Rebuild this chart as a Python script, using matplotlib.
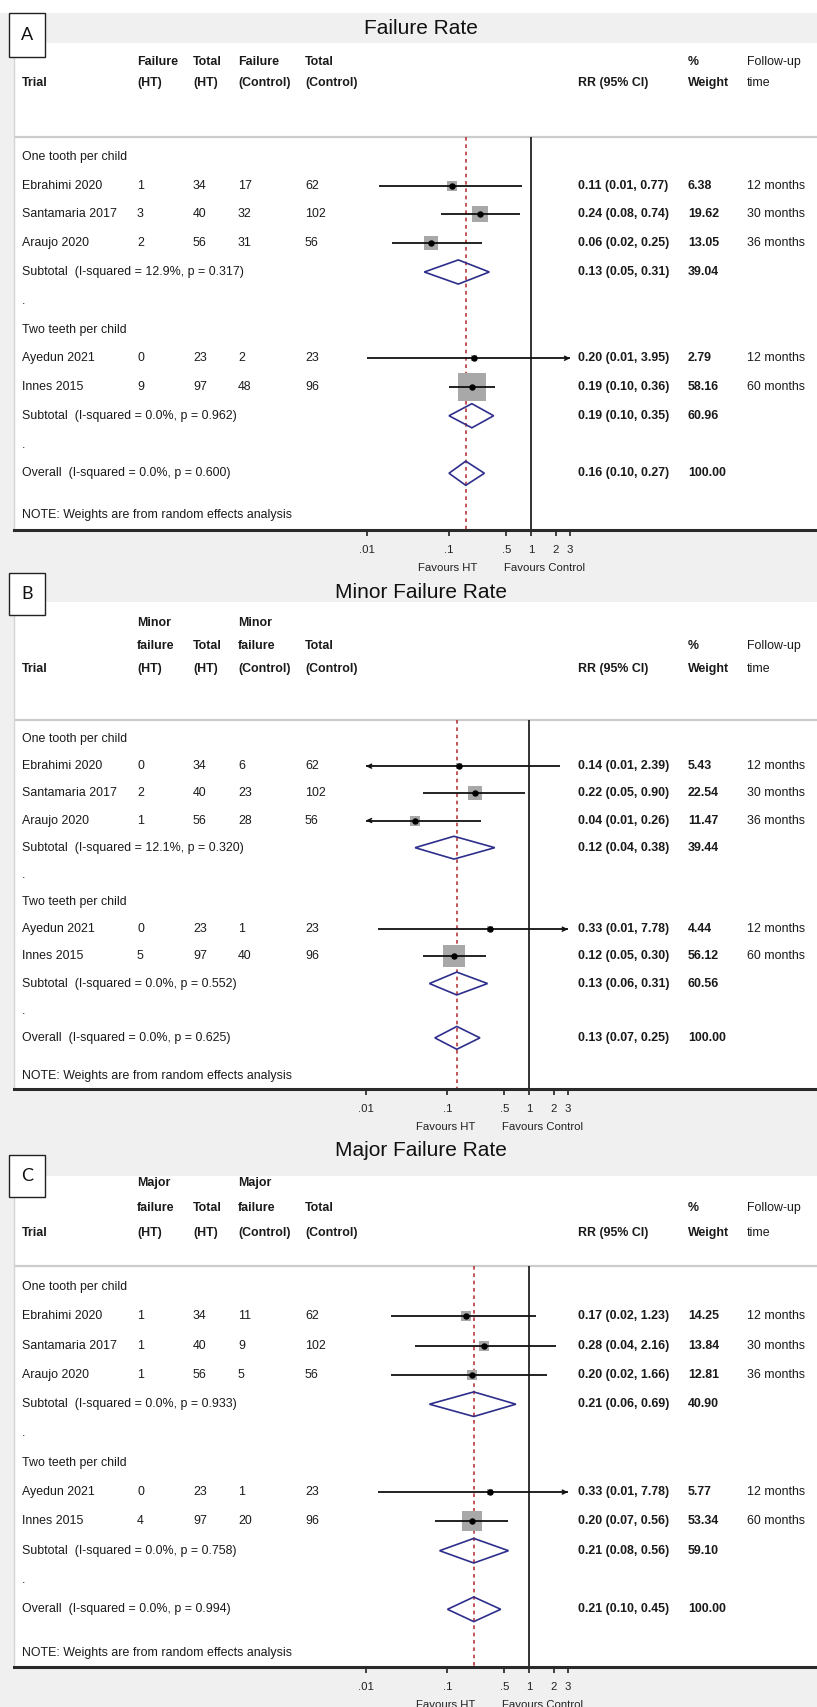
import matplotlib
matplotlib.use("Agg")
import matplotlib.pyplot as plt
from matplotlib.patches import Rectangle, Polygon
import matplotlib.transforms as mtransforms

W, H = 817, 1707
DPI = 100
plt.rcParams['font.family'] = ['Liberation Sans', 'DejaVu Sans']

# ---------------- data ----------------
studies = ["Ebrahimi 2020", "Santamaria 2017", "Araujo 2020", "Ayedun 2021", "Innes 2015"]
followup = ["12 months", "30 months", "36 months", "12 months", "60 months"]
group_labels = ["One tooth per child", "Two teeth per child"]
study_group = [0, 0, 0, 1, 1]
tick_vals = [0.01, 0.1, 0.5, 1, 2, 3]
tick_labels = [".01", ".1", ".5", "1", "2", "3"]

# Panel A - Failure rate
A_ev_ht = [1, 3, 2, 0, 9]
A_n_ht = [34, 40, 56, 23, 97]
A_ev_c = [17, 32, 31, 2, 48]
A_n_c = [62, 102, 56, 23, 96]
A_rr = [0.11, 0.24, 0.06, 0.20, 0.19]
A_lo = [0.014, 0.08, 0.02, 0.01, 0.10]
A_hi = [0.77, 0.74, 0.25, 3.95, 0.36]
A_w = [6.38, 19.62, 13.05, 2.79, 58.16]
A_sub_rr = [0.13, 0.19]
A_sub_lo = [0.05, 0.10]
A_sub_hi = [0.31, 0.35]
A_sub_w = [39.04, 60.96]
A_sub_i2 = [12.9, 0.0]
A_sub_p = [0.317, 0.962]
A_all = [0.16, 0.10, 0.27]
A_all_i2, A_all_p = 0.0, 0.600
A_head = [["", "Failure", "Total", "Failure", "Total", "", "%", "Follow-up"],
          ["Trial", "(HT)", "(HT)", "(Control)", "(Control)", "RR (95% CI)", "Weight", "time"]]

# Panel B - Minor failure rate
B_ev_ht = [0, 2, 1, 0, 5]
B_n_ht = [34, 40, 56, 23, 97]
B_ev_c = [6, 23, 28, 1, 40]
B_n_c = [62, 102, 56, 23, 96]
B_rr = [0.14, 0.22, 0.04, 0.33, 0.12]
B_lo = [0.008, 0.05, 0.006, 0.014, 0.05]
B_hi = [2.39, 0.90, 0.26, 7.78, 0.30]
B_w = [5.43, 22.54, 11.47, 4.44, 56.12]
B_sub_rr = [0.12, 0.13]
B_sub_lo = [0.04, 0.06]
B_sub_hi = [0.38, 0.31]
B_sub_w = [39.44, 60.56]
B_sub_i2 = [12.1, 0.0]
B_sub_p = [0.320, 0.552]
B_all = [0.13, 0.07, 0.25]
B_all_i2, B_all_p = 0.0, 0.625
B_head = [["", "Minor", "", "Minor", "", "", "", ""],
          ["", "failure", "Total", "failure", "Total", "", "%", "Follow-up"],
          ["Trial", "(HT)", "(HT)", "(Control)", "(Control)", "RR (95% CI)", "Weight", "time"]]

# Panel C - Major failure rate
C_ev_ht = [1, 1, 1, 0, 4]
C_n_ht = [34, 40, 56, 23, 97]
C_ev_c = [11, 9, 5, 1, 20]
C_n_c = [62, 102, 56, 23, 96]
C_rr = [0.17, 0.28, 0.20, 0.33, 0.20]
C_lo = [0.02, 0.04, 0.02, 0.014, 0.07]
C_hi = [1.23, 2.16, 1.66, 7.78, 0.56]
C_w = [14.25, 13.84, 12.81, 5.77, 53.34]
C_sub_rr = [0.21, 0.21]
C_sub_lo = [0.06, 0.08]
C_sub_hi = [0.69, 0.56]
C_sub_w = [40.90, 59.10]
C_sub_i2 = [0.0, 0.0]
C_sub_p = [0.933, 0.758]
C_all = [0.21, 0.10, 0.45]
C_all_i2, C_all_p = 0.0, 0.994
C_head = [["", "Major", "", "Major", "", "", "", ""],
          ["", "failure", "Total", "failure", "Total", "", "%", "Follow-up"],
          ["Trial", "(HT)", "(HT)", "(Control)", "(Control)", "RR (95% CI)", "Weight", "time"]]

# ---------------- layout (pixels) ----------------
COLX = [22, 137, 193, 238, 305, 578, 688, 747]
XMIN, XMAX = 0.01, 3.0
geoA = dict(white_top=43, axis=530, row0=157, dy=28.75, heads=[62, 83], sep=137,
            x1=531, ppd=82, title=28, box=(13, 57), note=515, k=3.6)
geoB = dict(white_top=602, axis=1089, row0=739, dy=27.17, heads=[623, 646, 669], sep=720,
            x1=529, ppd=81.5, title=593, box=(573, 615), note=1076, k=2.95)
geoC = dict(white_top=1176, axis=1667, row0=1287, dy=29.3, heads=[1183, 1208, 1233], sep=1266,
            x1=529, ppd=81.5, title=1150, box=(1155, 1197), note=1653, k=2.7)

BG = '#f0f0f0'
fig = plt.figure(figsize=(W / DPI, H / DPI), dpi=DPI, facecolor=BG)
fig.patches.append(Rectangle((0, 1 - 13 / H), 1, 13 / H, transform=fig.transFigure,
                             facecolor='white', edgecolor='none', zorder=0))

TXT = '#1a1a1a'
FS = 8.9


def fx(px):
    return px / W


def fy(py):
    return 1 - py / H


def draw_panel(geo, letter, title, head, ev_ht, n_ht, ev_c, n_c, rr, lo, hi, w,
               sub_rr, sub_lo, sub_hi, sub_w, sub_i2, sub_p, allv, all_i2, all_p):
    top, bot = geo['white_top'], geo['axis']
    ax = fig.add_axes([fx(14), fy(bot), fx(817 - 14), (bot - top) / H])
    ax.set_facecolor('white')
    ax.set_xscale('log')
    ax.set_xlim(10 ** ((14 - geo['x1']) / geo['ppd']), 10 ** ((817 - geo['x1']) / geo['ppd']))
    ax.set_ylim(bot, top)
    ax.set_yticks([])
    ax.minorticks_off()
    ax.set_xticks(tick_vals)
    ax.set_xticklabels(tick_labels)
    ax.tick_params(axis='x', which='major', direction='out', length=4.5, width=1.2,
                   pad=6.5, labelsize=8.2, colors='#222222')
    ax.tick_params(axis='x', which='minor', length=0)
    for s in ['top', 'right']:
        ax.spines[s].set_visible(False)
    ax.spines['left'].set_color('#d4d4d4')
    ax.spines['left'].set_linewidth(1.0)
    ax.spines['bottom'].set_color('#2a2a2a')
    ax.spines['bottom'].set_linewidth(2.2)

    tr = mtransforms.blended_transform_factory(fig.transFigure, ax.transData)
    dy = geo['dy']

    def row(i):
        return geo['row0'] + i * dy

    # header
    for hy, hrow in zip(geo['heads'], head):
        for ci, lab in enumerate(hrow):
            if not lab:
                continue
            bold = lab not in ("Follow-up", "time")
            ax.text(fx(COLX[ci]), hy, lab, transform=tr, ha='left', va='center',
                    fontsize=FS, color=TXT, fontweight='bold' if bold else 'normal')
    ax.axhline(geo['sep'], color='#cccccc', lw=1.6, zorder=1)

    # reference lines
    ax.vlines(1, geo['sep'], bot, color='#111111', lw=1.2, zorder=2)
    ax.vlines(allv[0], geo['sep'], bot, color='#b8383a', lw=1.2,
              linestyles=(0, (2.2, 2.2)), zorder=2)

    def txtrow(y, cells, bold_idx=()):
        for ci, lab in cells:
            ax.text(fx(COLX[ci]), y, lab, transform=tr, ha='left', va='center',
                    fontsize=FS, color=TXT,
                    fontweight='bold' if ci in bold_idx else 'normal')

    def diamond(y, est, l, h):
        hh = 0.42 * dy
        poly = Polygon([(l, y), (est, y - hh), (h, y), (est, y + hh)], closed=True,
                       fill=False, edgecolor='#2e2e8c', lw=1.2, zorder=4)
        ax.add_patch(poly)

    r = 0
    for g in range(2):
        txtrow(row(r), [(0, group_labels[g])])
        r += 1
        for si in [i for i in range(len(studies)) if study_group[i] == g]:
            y = row(r)
            side = geo['k'] * w[si] ** 0.5
            ax.scatter([rr[si]], [y], marker='s', s=(side * 72 / DPI) ** 2,
                       color='#a8a8a8', linewidths=0, zorder=3)
            l0, h0 = max(lo[si], XMIN), min(hi[si], XMAX)
            ax.plot([l0, h0], [y, y], color='#111111', lw=1.3, zorder=4,
                    solid_capstyle='butt')
            if lo[si] < XMIN:
                ax.annotate('', xy=(XMIN, y), xytext=(XMIN * 1.15, y),
                            arrowprops=dict(arrowstyle='->', lw=1.1, color='#111111',
                                            mutation_scale=7, shrinkA=0, shrinkB=0))
            if hi[si] > XMAX:
                ax.annotate('', xy=(XMAX, y), xytext=(XMAX / 1.15, y),
                            arrowprops=dict(arrowstyle='->', lw=1.1, color='#111111',
                                            mutation_scale=7, shrinkA=0, shrinkB=0))
            ax.plot([rr[si]], [y], 'o', ms=3.6, color='black', zorder=5)
            txtrow(y, [(0, studies[si]), (1, str(ev_ht[si])), (2, str(n_ht[si])),
                       (3, str(ev_c[si])), (4, str(n_c[si])),
                       (5, f"{rr[si]:.2f} ({lo[si]:.2f}, {hi[si]:.2f})"),
                       (6, f"{w[si]:.2f}"), (7, followup[si])], bold_idx=(5, 6))
            r += 1
        y = row(r)
        diamond(y, sub_rr[g], sub_lo[g], sub_hi[g])
        txtrow(y, [(0, f"Subtotal  (I-squared = {sub_i2[g]:.1f}%, p = {sub_p[g]:.3f})"),
                   (5, f"{sub_rr[g]:.2f} ({sub_lo[g]:.2f}, {sub_hi[g]:.2f})"),
                   (6, f"{sub_w[g]:.2f}")], bold_idx=(5, 6))
        r += 1
        txtrow(row(r), [(0, ".")])
        r += 1
    y = row(r)
    diamond(y, allv[0], allv[1], allv[2])
    txtrow(y, [(0, f"Overall  (I-squared = {all_i2:.1f}%, p = {all_p:.3f})"),
               (5, f"{allv[0]:.2f} ({allv[1]:.2f}, {allv[2]:.2f})"),
               (6, "100.00")], bold_idx=(5, 6))
    txtrow(geo['note'], [(0, "NOTE: Weights are from random effects analysis")])

    # favours labels
    fav_y = bot + 38
    fig.text(fx(geo['x1'] - 54), fy(fav_y), "Favours HT", ha='right', va='center',
             fontsize=8.2, color='#222222')
    fig.text(fx(geo['x1'] - 27), fy(fav_y), "Favours Control", ha='left', va='center',
             fontsize=8.2, color='#222222')
    # title
    fig.text(fx(421), fy(geo['title']), title, ha='center', va='center',
             fontsize=15, color='#111111')
    # panel letter box
    b0, b1 = geo['box']
    fig.patches.append(Rectangle((fx(9), fy(b1)), fx(36), (b1 - b0) / H,
                                 transform=fig.transFigure, facecolor='white',
                                 edgecolor='#222222', lw=1.0, zorder=5))
    fig.text(fx(27), fy((b0 + b1) / 2), letter, ha='center', va='center',
             fontsize=13, family=['Lato', 'DejaVu Sans'], color='#111111', zorder=6)


draw_panel(geoA, "A", "Failure Rate", A_head, A_ev_ht, A_n_ht, A_ev_c, A_n_c,
           A_rr, A_lo, A_hi, A_w, A_sub_rr, A_sub_lo, A_sub_hi, A_sub_w,
           A_sub_i2, A_sub_p, A_all, A_all_i2, A_all_p)
draw_panel(geoB, "B", "Minor Failure Rate", B_head, B_ev_ht, B_n_ht, B_ev_c, B_n_c,
           B_rr, B_lo, B_hi, B_w, B_sub_rr, B_sub_lo, B_sub_hi, B_sub_w,
           B_sub_i2, B_sub_p, B_all, B_all_i2, B_all_p)
draw_panel(geoC, "C", "Major Failure Rate", C_head, C_ev_ht, C_n_ht, C_ev_c, C_n_c,
           C_rr, C_lo, C_hi, C_w, C_sub_rr, C_sub_lo, C_sub_hi, C_sub_w,
           C_sub_i2, C_sub_p, C_all, C_all_i2, C_all_p)

fig.savefig("out.png", dpi=DPI, facecolor=BG)
